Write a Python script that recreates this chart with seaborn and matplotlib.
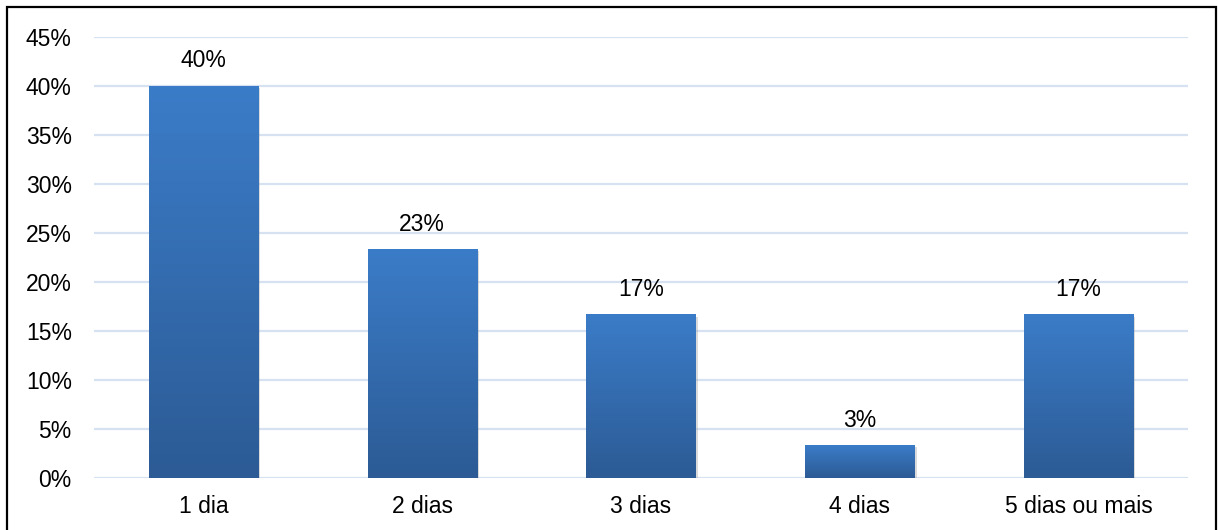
import numpy as np
import pandas as pd
import matplotlib
matplotlib.use("Agg")
import matplotlib.pyplot as plt
import matplotlib.patheffects as pe
from matplotlib.colors import LinearSegmentedColormap
from matplotlib.patches import Rectangle
from matplotlib.ticker import PercentFormatter
import seaborn as sns

categories = ["1 dia", "2 dias", "3 dias", "4 dias", "5 dias ou mais"]
shares = [40.0, 23.33, 16.67, 3.33, 16.67]
yticks = [0, 5, 10, 15, 20, 25, 30, 35, 40, 45]

df = pd.DataFrame({"dias": categories, "pct": shares})

sns.set_theme(style="white")
plt.rcParams["font.family"] = ["Liberation Sans", "DejaVu Sans"]

W, H = 1218, 530
fig = plt.figure(figsize=(W / 100, H / 100), dpi=100)
ax = fig.add_axes([94 / W, 1 - 478 / H, (1188 - 94) / W, (478 - 37) / H])

sns.barplot(data=df, x="dias", y="pct", ax=ax, width=0.5, color="#3A78C4",
            saturation=1, linewidth=0, zorder=3)

FS = 16.5
ax.set_ylim(0, 45)
ax.set_xlim(-0.5, len(categories) - 0.5)
ax.set_yticks(yticks)
ax.yaxis.set_major_formatter(PercentFormatter(decimals=0))
ax.yaxis.grid(True, color="#D6E1F1", linewidth=1.6, zorder=0)
ax.xaxis.grid(False)
for s in ax.spines.values():
    s.set_visible(False)
ax.tick_params(axis="y", length=0, pad=16, labelsize=FS, labelcolor="#000000")
ax.tick_params(axis="x", length=0, pad=12, labelsize=FS, labelcolor="#000000")
ax.set_xlabel("")
ax.set_ylabel("")

# vertical gradient fill on each bar, with a soft drop shadow
grad = LinearSegmentedColormap.from_list("barblue", ["#2C5B95", "#3B7CC8"])
g = np.linspace(0, 1, 256).reshape(-1, 1)
for p in ax.patches:
    x0, y0 = p.get_x(), p.get_y()
    w, h = p.get_width(), p.get_height()
    p.set_path_effects([pe.SimplePatchShadow(offset=(1.5, -1.5), shadow_rgbFace="#9A9A9A",
                                             alpha=0.35), pe.Normal()])
    ax.imshow(g, cmap=grad, origin="lower", aspect="auto",
              extent=(x0, x0 + w, y0, y0 + h), zorder=4, interpolation="bilinear")
    ax.text(x0 + w / 2, y0 + h + 1.4, f"{round(h):.0f}%", ha="center", va="bottom",
            fontsize=FS, color="#000000", zorder=5)

ax.set_xlim(-0.5, len(categories) - 0.5)
ax.set_ylim(0, 45)

# outer frame around the chart area
fig.patches.append(Rectangle((7 / W, -0.02), (1216 - 7) / W, 1 - 7 / H + 0.02,
                             transform=fig.transFigure, fill=False,
                             edgecolor="#000000", linewidth=1.6, clip_on=False))

fig.savefig("out.png", dpi=100, facecolor="white")
